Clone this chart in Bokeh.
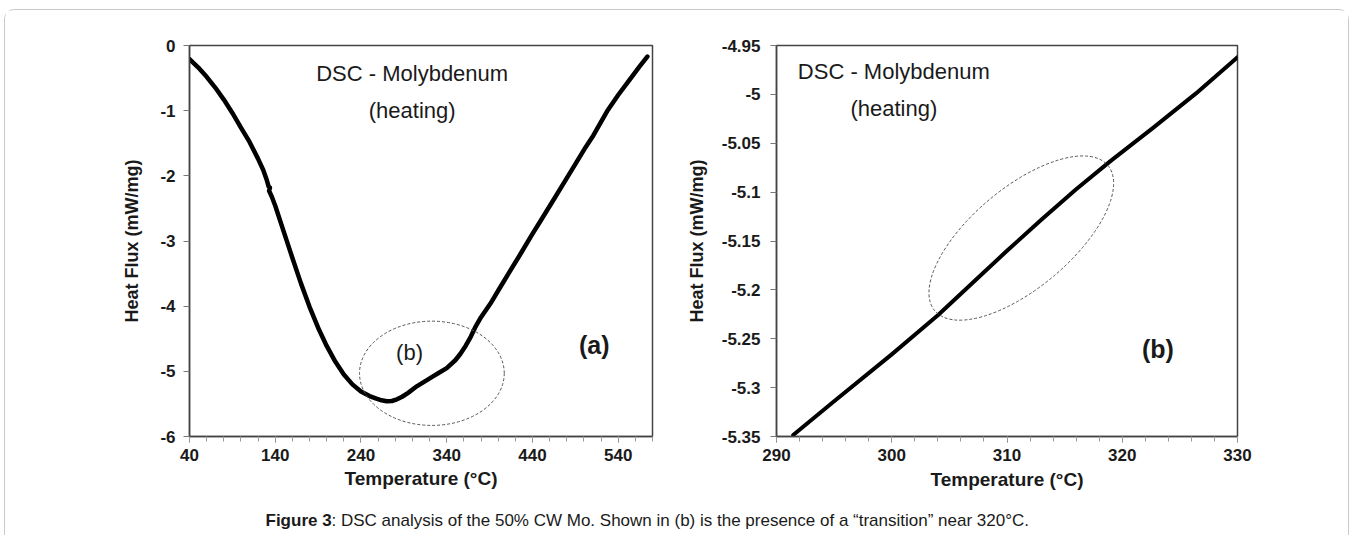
from bokeh.plotting import figure
from bokeh.models import Range1d, FixedTicker, Label
from bokeh.layouts import row, column
from bokeh.embed import file_html
from bokeh.resources import INLINE
import math

# ---------------- data ----------------
temp_a = [40, 50, 60, 70, 80, 90, 100, 110, 120, 126, 130, 132.2, 133.8, 132.8, 136, 140, 150,
          160, 170, 180, 190, 200, 210, 220, 230, 240, 250, 258, 264, 270, 276, 282, 288,
          295, 305, 315, 323, 330, 340, 350, 356, 362, 368, 373, 380, 391, 401, 412, 426, 440,
          449, 465, 477, 490, 502, 511, 527, 540, 553, 565, 574]
flux_a = [-0.21, -0.335, -0.48, -0.645, -0.83, -1.035, -1.26, -1.48, -1.74, -1.91, -2.06,
          -2.16, -2.18, -2.23, -2.32, -2.46, -2.86, -3.26, -3.65, -4.01, -4.33, -4.61, -4.85,
          -5.05, -5.20, -5.31, -5.38, -5.42, -5.445, -5.46, -5.455, -5.43, -5.39,
          -5.33, -5.23, -5.15, -5.085, -5.03, -4.95, -4.83, -4.73, -4.61, -4.47, -4.33, -4.17,
          -3.96, -3.74, -3.50, -3.20, -2.89, -2.70, -2.36, -2.10, -1.82, -1.56, -1.38, -1.01,
          -0.76, -0.53, -0.32, -0.17]

temp_b = [291.45, 295, 300, 304, 307, 310, 313, 316, 319, 322.7, 326.4, 330.0]
flux_b = [-5.3485, -5.314, -5.266, -5.226, -5.193, -5.160, -5.128, -5.097, -5.068, -5.034,
          -4.999, -4.962]

xticks_a = [40, 140, 240, 340, 440, 540]
xtick_labels_a = ["40", "140", "240", "340", "440", "540"]
xminor_a = list(range(40, 581, 20))
yticks_a = [0, -1, -2, -3, -4, -5, -6]
ytick_labels_a = ["0", "-1", "-2", "-3", "-4", "-5", "-6"]

xticks_b = [290, 300, 310, 320, 330]
xtick_labels_b = ["290", "300", "310", "320", "330"]
xminor_b = list(range(290, 331, 2))
yticks_b = [-4.95, -5, -5.05, -5.1, -5.15, -5.2, -5.25, -5.3, -5.35]
ytick_labels_b = ["-4.95", "-5", "-5.05", "-5.1", "-5.15", "-5.2", "-5.25", "-5.3", "-5.35"]

# annotation ellipses (centre x, centre y)
ell_a = dict(x=322.7, y=-5.03, w=168.8, h=1.60)
ell_b = dict(x=311.24, y=-5.147, w=226, h=100, angle_deg=40)

SANS = "Liberation Sans"
AXIS_COL = "#444444"
TEXT_COL = "#1a1a1a"


def style(p, xt, xl, xm, yt, yl, ylab_standoff, ytitle_standoff, xtitle_standoff):
    p.grid.grid_line_color = None
    p.outline_line_color = AXIS_COL
    p.outline_line_width = 1.5
    p.background_fill_color = "white"
    p.border_fill_color = "white"
    p.xaxis.ticker = FixedTicker(ticks=xt, minor_ticks=xm)
    p.yaxis.ticker = FixedTicker(ticks=yt, minor_ticks=[])
    p.xaxis.major_label_overrides = {t: l for t, l in zip(xt, xl)}
    p.yaxis.major_label_overrides = {t: l for t, l in zip(yt, yl)}
    for ax in (p.xaxis[0], p.yaxis[0]):
        ax.axis_line_color = AXIS_COL
        ax.axis_line_width = 1.5
        ax.major_tick_line_color = "#777777"
        ax.minor_tick_line_color = "#999999"
        ax.major_tick_in = 0
        ax.major_tick_out = 6
        ax.minor_tick_in = 0
        ax.minor_tick_out = 5
        ax.major_label_text_font = SANS
        ax.major_label_text_font_style = "bold"
        ax.major_label_text_font_size = "17px"
        ax.major_label_text_color = TEXT_COL
        ax.axis_label_text_font = SANS
        ax.axis_label_text_font_style = "bold"
        ax.axis_label_text_color = TEXT_COL
    p.xaxis.major_label_standoff = 6
    p.yaxis.major_label_standoff = ylab_standoff
    p.xaxis.axis_label_standoff = xtitle_standoff
    p.yaxis.axis_label_standoff = ytitle_standoff
    p.xaxis.axis_label_text_font_size = "19px"
    p.yaxis.axis_label_text_font_size = "18px"
    p.xaxis.axis_label = "Temperature (°C)"
    p.yaxis.axis_label = "Heat Flux (mW/mg)"


def lab(p, x, y, text, size, bold=False):
    p.add_layout(Label(x=x, y=y, text=text, text_font=SANS, text_font_size=size,
                       text_font_style="bold" if bold else "normal", text_color=TEXT_COL,
                       text_align="center", text_baseline="middle"))


# ---------------- panel (a) ----------------
p1 = figure(width=663, height=495, x_range=Range1d(40, 580), y_range=Range1d(-6, 0),
            output_backend="svg", toolbar_location=None,
            min_border_left=184, min_border_right=16, min_border_top=27, min_border_bottom=69)
style(p1, xticks_a, xtick_labels_a, xminor_a, yticks_a, ytick_labels_a, 8, 15, 4)
p1.line(temp_a, flux_a, line_color="black", line_width=4.5, line_join="round", line_cap="round")
p1.ellipse(x=[ell_a["x"]], y=[ell_a["y"]], width=[ell_a["w"]], height=[ell_a["h"]],
           fill_alpha=0, line_color="#555555", line_width=1, line_dash="3 2")
lab(p1, 299.7, -0.434, "DSC - Molybdenum", "22px")
lab(p1, 299.7, -0.994, "(heating)", "22px")
lab(p1, 296.6, -4.71, "(b)", "22px")
lab(p1, 512, -4.59, "(a)", "25px", bold=True)

# ---------------- panel (b) ----------------
p2 = figure(width=680, height=495, x_range=Range1d(290, 330), y_range=Range1d(-5.35, -4.95),
            output_backend="svg", toolbar_location=None,
            min_border_left=108, min_border_right=111, min_border_top=35, min_border_bottom=65)
style(p2, xticks_b, xtick_labels_b, xminor_b, yticks_b, ytick_labels_b, 10, 12, 5)
p2.line(temp_b, flux_b, line_color="black", line_width=4, line_join="round", line_cap="round")
p2.ellipse(x=[ell_b["x"]], y=[ell_b["y"]], width=[ell_b["w"]], height=[ell_b["h"]],
           width_units="screen", height_units="screen",
           angle=math.radians(ell_b["angle_deg"]),
           fill_alpha=0, line_color="#555555", line_width=1, line_dash="3 2")
lab(p2, 300.18, -4.977, "DSC - Molybdenum", "22px")
lab(p2, 300.18, -5.014, "(heating)", "22px")
lab(p2, 323.1, -5.26, "(b)", "25px", bold=True)

# ---------------- caption ----------------
p3 = figure(width=1343, height=30, x_range=Range1d(0, 1343), y_range=Range1d(0, 30),
            output_backend="svg", toolbar_location=None, min_border=0,
            x_axis_location=None, y_axis_location=None)
p3.grid.grid_line_color = None
p3.outline_line_color = None
cap_x = 260
p3.add_layout(Label(x=cap_x, y=15, text="Figure 3", text_font=SANS, text_font_size="17px",
                    text_font_style="bold", text_color=TEXT_COL, text_align="left",
                    text_baseline="middle"))
p3.add_layout(Label(x=cap_x + 66, y=15,
                    text=": DSC analysis of the 50% CW Mo. Shown in (b) is the presence of a \u201ctransition\u201d near 320\u00b0C.",
                    text_font=SANS, text_font_size="17px", text_color=TEXT_COL,
                    text_align="left", text_baseline="middle"))

layout = column(row(p1, p2), p3,
                styles={"border-top": "1px solid #c9c9c9", "border-left": "1px solid #c9c9c9",
                        "border-right": "1px solid #c9c9c9", "border-radius": "10px 10px 0 0"},
                margin=(9, 0, 0, 4))

open("out.html", "w").write(file_html(layout, INLINE))
